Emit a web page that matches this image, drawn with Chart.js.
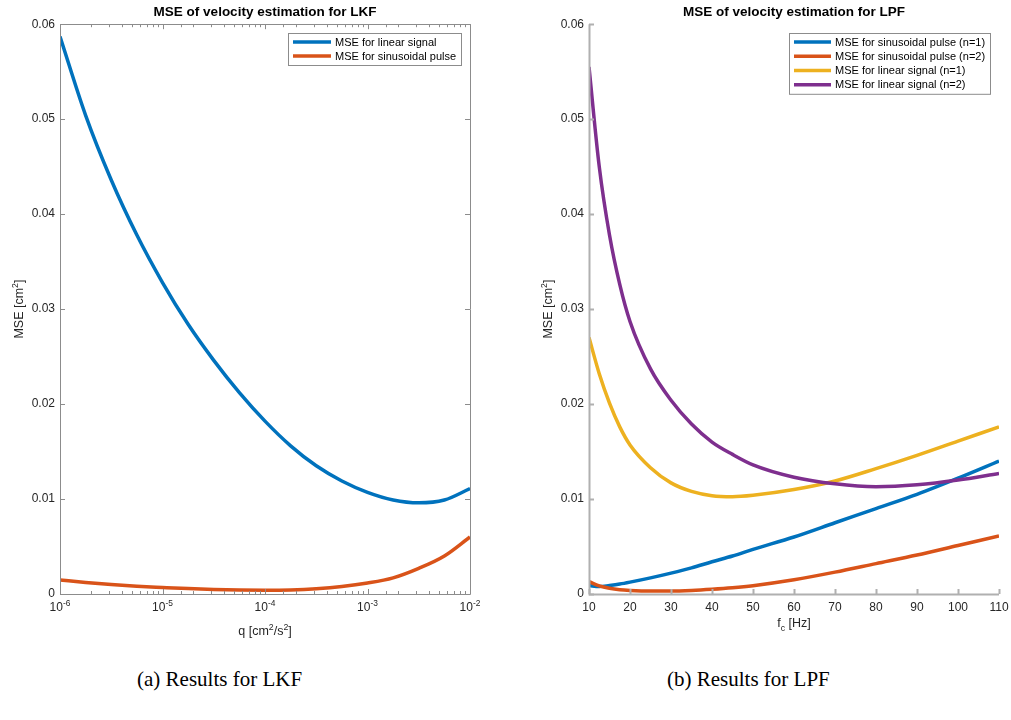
<!DOCTYPE html>
<html>
<head>
<meta charset="utf-8">
<script src="https://cdn.jsdelivr.net/npm/chart.js@4/dist/chart.umd.min.js"></script>
<style>
  body { margin: 0; background: #fff; }
  #page { position: relative; width: 1011px; height: 720px; overflow: hidden; }
  .panel { position: absolute; top: 0; height: 650px; }
  .cap { position: absolute; top: 667px; font-family: "Liberation Serif", serif; font-size: 21px; color: #000; white-space: nowrap; }
</style>
</head>
<body>
<div id="page">
  <div class="panel" style="left:0;width:505px"><canvas id="lkf"></canvas></div>
  <div class="panel" style="left:505px;width:506px"><canvas id="lpf"></canvas></div>
  <div class="cap" style="left:137px">(a) Results for LKF</div>
  <div class="cap" style="left:667px">(b) Results for LPF</div>
</div>
<script>
// ---- LKF data (q on log axis, quarter-decade steps) ----
const lkfQ = [1e-6, 1.778e-6, 3.162e-6, 5.623e-6, 1e-5, 1.778e-5, 3.162e-5, 5.623e-5, 1e-4,
              1.778e-4, 3.162e-4, 5.623e-4, 1e-3, 1.778e-3, 3.162e-3, 5.623e-3, 1e-2];
const lkfLinear = [0.0587, 0.0504, 0.0436, 0.0378, 0.0328, 0.0284, 0.0246, 0.0212, 0.0182,
                   0.0156, 0.0135, 0.0119, 0.0107, 0.0099, 0.0096, 0.0099, 0.0111];
const lkfSinusoidal = [0.00147, 0.00122, 0.00100, 0.00082, 0.00069, 0.00057, 0.00048, 0.00042, 0.00040,
                       0.00043, 0.00055, 0.00078, 0.00115, 0.0017, 0.0027, 0.0040, 0.0060];
const lkfLabels = ["MSE for linear signal", "MSE for sinusoidal pulse"];
const lkfXTicks = [1e-6, 1e-5, 1e-4, 1e-3, 1e-2];

// ---- LPF data (cut-off frequency in Hz) ----
const lpfFc = [10, 12.5, 15, 17.5, 20, 25, 30, 35, 40, 45, 50, 60, 70, 80, 90, 100, 110];
const lpfSine1 = [0.0009, 0.00078, 0.0009, 0.00105, 0.00125, 0.0017, 0.0022, 0.00275, 0.0034, 0.0040, 0.0047, 0.0060, 0.0075, 0.0090, 0.0105, 0.0122, 0.0140];
const lpfSine2 = [0.0013, 0.00085, 0.0006, 0.00045, 0.00038, 0.00032, 0.00032, 0.00038, 0.0005, 0.00066, 0.00088, 0.0015, 0.0023, 0.0032, 0.0041, 0.0051, 0.0061];
const lpfLinear1 = [0.0270, 0.0232, 0.0201, 0.0176, 0.0157, 0.0133, 0.0117, 0.0108, 0.01035, 0.01025, 0.0104, 0.0110, 0.0119, 0.0132, 0.0146, 0.0161, 0.0176];
const lpfLinear2 = [0.0555, 0.0450, 0.0378, 0.0326, 0.0287, 0.0237, 0.0204, 0.0179, 0.0160, 0.0147, 0.0136, 0.0123, 0.0116, 0.0113, 0.0115, 0.0120, 0.0127];
const lpfLabels = ["MSE for sinusoidal pulse (n=1)", "MSE for sinusoidal pulse (n=2)", "MSE for linear signal (n=1)", "MSE for linear signal (n=2)"];

const mBlue = "#0072BD", mOrange = "#D95319", mYellow = "#EDB120", mPurple = "#7E2F8E";
const textCol = "#262626";
const sans = "'Liberation Sans', Arial, sans-serif";
const labelSize = 12.5;

function pts(xs, ys) {
    return xs.map((x, i) => ({ x: x, y: ys[i] }));
}

function isPow10(v) {
    const l = Math.log10(v);
    return Math.abs(l - Math.round(l)) < 1e-6;
}

// draws text pieces with super/subscripts, centred on (0,0) of the current transform
function drawRich(ctx, segs, size) {
    const small = size * 0.7;
    let total = 0;
    segs.forEach(s => {
        ctx.font = (s[1] ? small : size) + "px " + sans;
        total += ctx.measureText(s[0]).width;
    });
    let x = -total / 2;
    ctx.textAlign = "left";
    ctx.textBaseline = "middle";
    segs.forEach(s => {
        ctx.font = (s[1] ? small : size) + "px " + sans;
        const dy = s[1] === 1 ? -size * 0.38 : (s[1] === -1 ? size * 0.35 : 0);
        ctx.fillText(s[0], x, dy);
        x += ctx.measureText(s[0]).width;
    });
}

// MATLAB style axes: inward ticks, optional box, tick/axis text with exponents
const matlabAxes = {
    id: "matlabAxes",
    afterDatasetsDraw(chart, args, o) {
        const ctx = chart.ctx, a = chart.chartArea;
        const x = chart.scales.x, y = chart.scales.y;
        ctx.save();
        ctx.strokeStyle = o.color;
        ctx.lineWidth = o.width;
        ctx.beginPath();
        x.ticks.forEach(t => {
            const px = Math.round(x.getPixelForValue(t.value)) + 0.5;
            const len = (o.logX && !isPow10(t.value)) ? o.minor : o.major;
            ctx.moveTo(px, a.bottom); ctx.lineTo(px, a.bottom - len);
            if (o.box) { ctx.moveTo(px, a.top); ctx.lineTo(px, a.top + len); }
        });
        y.ticks.forEach(t => {
            const py = Math.round(y.getPixelForValue(t.value)) + 0.5;
            ctx.moveTo(a.left, py); ctx.lineTo(a.left + o.major, py);
            if (o.box) { ctx.moveTo(a.right, py); ctx.lineTo(a.right - o.major, py); }
        });
        ctx.stroke();
        ctx.beginPath();
        const l = Math.round(a.left) + 0.5, b = Math.round(a.bottom) + 0.5;
        if (o.box) {
            ctx.rect(l, Math.round(a.top) + 0.5, Math.round(a.right) - Math.round(a.left), Math.round(a.bottom) - Math.round(a.top));
        } else {
            ctx.moveTo(l, a.top); ctx.lineTo(l, b); ctx.lineTo(a.right, b);
        }
        ctx.stroke();

        ctx.fillStyle = textCol;
        // power-of-ten tick labels
        if (o.powerTicks) {
            o.powerTicks.forEach(v => {
                ctx.save();
                ctx.translate(x.getPixelForValue(v), a.bottom + 14);
                drawRich(ctx, [["10", 0], [String(Math.round(Math.log10(v))), 1]], 12);
                ctx.restore();
            });
        }
        // x-axis title
        ctx.save();
        ctx.translate((a.left + a.right) / 2, a.bottom + o.xTitleDy);
        drawRich(ctx, o.xTitle, labelSize);
        ctx.restore();
        // y-axis title
        ctx.save();
        ctx.translate(o.yTitleX, (a.top + a.bottom) / 2);
        ctx.rotate(-Math.PI / 2);
        drawRich(ctx, o.yTitle, labelSize);
        ctx.restore();
        ctx.restore();
    }
};

// boxed legend inside the axes (top right)
const boxLegend = {
    id: "boxLegend",
    afterDraw(chart, args, o) {
        const ctx = chart.ctx, a = chart.chartArea;
        const sets = chart.data.datasets;
        ctx.save();
        ctx.font = o.fontSize + "px " + sans;
        const maxW = Math.max(...sets.map(d => ctx.measureText(d.label).width));
        const w = 5 + o.lineLen + 4 + maxW + 5;
        const h = sets.length * o.rowHeight + 4;
        const right = Math.round(a.right - o.inset);
        const left = right - Math.round(w);
        const top = Math.round(a.top + o.inset);
        ctx.fillStyle = "#fff";
        ctx.fillRect(left, top, right - left, h);
        ctx.strokeStyle = "#8c8c8c";
        ctx.lineWidth = 1;
        ctx.strokeRect(left + 0.5, top + 0.5, right - left, h);
        sets.forEach((d, i) => {
            const cy = top + 2 + o.rowHeight * (i + 0.5);
            ctx.strokeStyle = d.borderColor;
            ctx.lineWidth = 3.5;
            ctx.beginPath();
            ctx.moveTo(left + 5, cy); ctx.lineTo(left + 5 + o.lineLen, cy);
            ctx.stroke();
            ctx.fillStyle = "#000";
            ctx.textAlign = "left";
            ctx.textBaseline = "middle";
            ctx.fillText(d.label, left + 5 + o.lineLen + 4, cy + 0.5);
        });
        ctx.restore();
    }
};

function lineSet(label, xs, ys, color, order) {
    return {
        label: label,
        data: pts(xs, ys),
        borderColor: color,
        backgroundColor: color,
        borderWidth: 3.5,
        pointRadius: 0,
        cubicInterpolationMode: "monotone",
        borderCapStyle: "butt",
        borderJoinStyle: "round",
        fill: false,
        order: order
    };
}

function yAxis(width) {
    return {
        type: "linear",
        min: 0,
        max: 0.06,
        grid: { display: false, drawTicks: false },
        border: { display: false },
        ticks: {
            stepSize: 0.01,
            padding: 5,
            color: textCol,
            font: { family: sans, size: 12 },
            callback: v => (Math.abs(v) < 1e-9 ? "0" : Number(v).toFixed(2))
        },
        afterFit: s => { s.width = width; s.paddingTop = 0; s.paddingBottom = 0; }
    };
}

function fitX(s) {
    s.height = 56;
    s.paddingLeft = 0;
    s.paddingRight = 0;
}

function titleOpts(text) {
    return {
        display: true,
        text: text,
        fullSize: false,
        color: "#000",
        font: { family: sans, size: 13.5, weight: "bold" },
        padding: { top: 4, bottom: 4 }
    };
}

const yTitleSegs = [["MSE [cm", 0], ["2", 1], ["]", 0]];

new Chart(document.getElementById("lkf"), {
    type: "line",
    data: {
        datasets: [
            lineSet(lkfLabels[0], lkfQ, lkfLinear, mBlue, 2),
            lineSet(lkfLabels[1], lkfQ, lkfSinusoidal, mOrange, 1)
        ]
    },
    options: {
        responsive: true,
        maintainAspectRatio: false,
        animation: false,
        layout: { padding: { left: 0, right: 35, top: 0, bottom: 0 } },
        plugins: {
            legend: { display: false },
            tooltip: { enabled: false },
            title: titleOpts("MSE of velocity estimation for LKF"),
            matlabAxes: {
                color: "#8c8c8c", width: 1, major: 5, minor: 3, box: true, logX: true,
                powerTicks: lkfXTicks,
                xTitle: [["q [cm", 0], ["2", 1], ["/s", 0], ["2", 1], ["]", 0]], xTitleDy: 38,
                yTitle: yTitleSegs, yTitleX: 20
            },
            boxLegend: { fontSize: 11, rowHeight: 14, lineLen: 38, inset: 9 }
        },
        scales: {
            x: {
                type: "logarithmic",
                min: 1e-6,
                max: 1e-2,
                grid: { display: false, drawTicks: false },
                border: { display: false },
                ticks: { autoSkip: false, callback: () => "", padding: 0 },
                afterFit: fitX
            },
            y: yAxis(60)
        }
    },
    plugins: [matlabAxes, boxLegend]
});

new Chart(document.getElementById("lpf"), {
    type: "line",
    data: {
        datasets: [
            lineSet(lpfLabels[0], lpfFc, lpfSine1, mBlue, 4),
            lineSet(lpfLabels[1], lpfFc, lpfSine2, mOrange, 3),
            lineSet(lpfLabels[2], lpfFc, lpfLinear1, mYellow, 2),
            lineSet(lpfLabels[3], lpfFc, lpfLinear2, mPurple, 1)
        ]
    },
    options: {
        responsive: true,
        maintainAspectRatio: false,
        animation: false,
        layout: { padding: { left: 0, right: 12, top: 0, bottom: 0 } },
        plugins: {
            legend: { display: false },
            tooltip: { enabled: false },
            title: titleOpts("MSE of velocity estimation for LPF"),
            matlabAxes: {
                color: "#b0b0b0", width: 2, major: 5, minor: 3, box: false, logX: false,
                xTitle: [["f", 0], ["c", -1], [" [Hz]", 0]], xTitleDy: 30,
                yTitle: yTitleSegs, yTitleX: 44
            },
            boxLegend: { fontSize: 11, rowHeight: 14.2, lineLen: 37, inset: 9 }
        },
        scales: {
            x: {
                type: "linear",
                min: 10,
                max: 110,
                grid: { display: false, drawTicks: false },
                border: { display: false },
                ticks: {
                    stepSize: 10,
                    padding: 6,
                    color: textCol,
                    font: { family: sans, size: 12 }
                },
                afterFit: fitX
            },
            y: yAxis(84)
        }
    },
    plugins: [matlabAxes, boxLegend]
});
</script>
</body>
</html>
